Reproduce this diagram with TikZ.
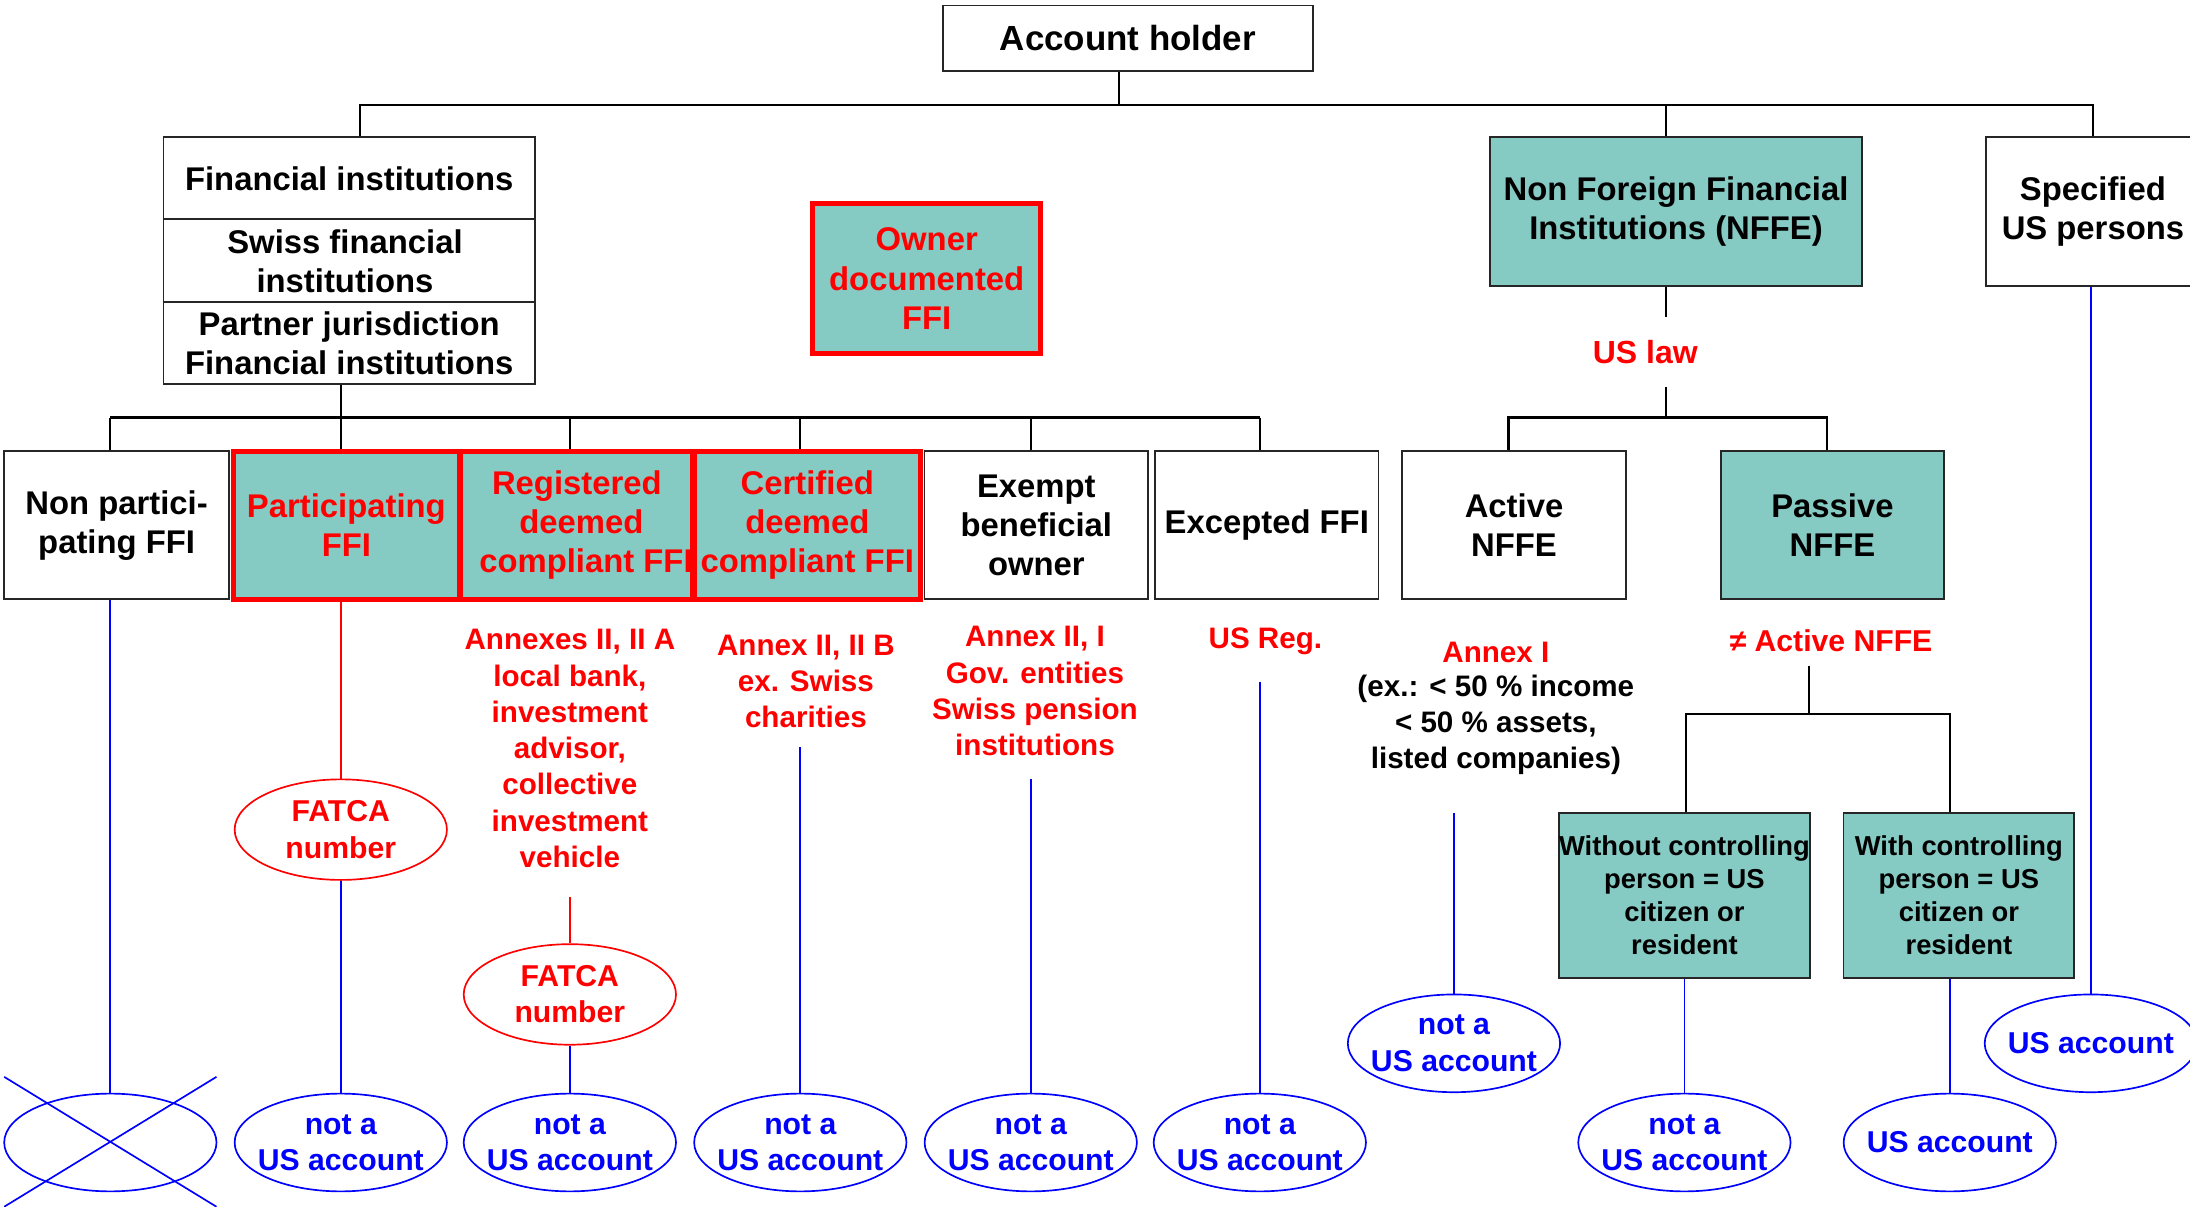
\documentclass[tikz,border=0pt]{standalone}
\usepackage{fontspec}
\setmainfont{Liberation Sans}
\usetikzlibrary{shapes.geometric}
\definecolor{tealfill}{RGB}{134,202,196}
\definecolor{myred}{RGB}{255,0,0}
\definecolor{myblue}{RGB}{0,0,255}
\begin{document}
\begin{tikzpicture}[x=1pt,y=-1pt,
 box/.style={draw=black!85,line width=1.2pt,inner sep=0pt,align=center,font=\bfseries\fontsize{23.5}{28}\selectfont},
 tealbox/.style={box,fill=tealfill},
 redbox/.style={tealbox,draw=myred,line width=3.5pt,text=myred},
 txt/.style={inner sep=0pt,align=center,font=\bfseries\fontsize{23.5}{28}\selectfont},
 bus/.style={line width=1.6pt,black},
 bline/.style={myblue,line width=1.3pt},
 rline/.style={myred,line width=1.3pt},
 acct/.style={ellipse,draw=myblue,line width=1.2pt,minimum width=152pt,minimum height=70pt,inner sep=0pt},
 accttxt/.style={inner sep=0pt,align=center,text=myblue,font=\bfseries\fontsize{21.6}{26}\selectfont},
 fatca/.style={acct,draw=myred,minimum height=72pt},
 fatcatxt/.style={accttxt,text=myred},
 redtxt/.style={text=myred,align=center,inner sep=0pt,font=\bfseries\fontsize{21.2}{26}\selectfont},
 blktxt/.style={redtxt,text=black},
 subbox/.style={tealbox,font=\bfseries\fontsize{19.6}{23.7}\selectfont}
]
\useasboundingbox (0,0) rectangle (1568,864);
% top
\node[box,minimum width=265pt,minimum height=47pt,font=\bfseries\fontsize{25}{30}\selectfont] (acc) at (807.5,27.5) {Account holder};
% financial institutions
\node[box,minimum width=266pt,minimum height=177pt] (fi) at (250,186.5) {};
\draw[black!85,line width=1.2pt] (fi.west |- 0,157) -- (fi.east |- 0,157);
\draw[black!85,line width=1.2pt] (fi.west |- 0,216) -- (fi.east |- 0,216);
\node[txt] (fi1) at (250,128) {Financial institutions};
\node[txt] (fi2) at (247,187) {Swiss financial\\institutions};
\node[txt] (fi3) at (250,246) {Partner jurisdiction\\Financial institutions};
\node[redbox,minimum width=163pt,minimum height=107pt] (odf) at (663.5,199.5) {Owner\\documented\\FFI};
\node[tealbox,minimum width=266pt,minimum height=107pt] (nffe) at (1200,151.5) {Non Foreign Financial\\Institutions (NFFE)};
\node[box,minimum width=153pt,minimum height=107pt] (spec) at (1498.5,151.5) {Specified\\US persons};
% top bus
\coordinate (tb) at (801,75);
\draw[bus] (acc.south -| tb) -- (tb);
\draw[bus] (fi.north -| 258,0) |- (spec.north |- tb) -- (spec.north);
\draw[bus] (tb -| 1193,0) -- (nffe.north -| 1193,0);
% row boxes
\node[box,minimum width=161pt,minimum height=106pt] (np) at (83.5,376) {Non partici-\\pating FFI};
\node[redbox,minimum width=162pt,minimum height=106pt] (part) at (248,376) {Participating\\FFI};
\node[redbox,minimum width=162pt,minimum height=106pt] (reg) at (413,376) {Registered\\\ deemed\\\ \ compliant FFI};
\node[redbox,minimum width=162pt,minimum height=106pt] (cert) at (578,376) {Certified\\deemed\\compliant FFI};
\node[box,minimum width=160pt,minimum height=106pt] (exm) at (742,376) {Exempt\\beneficial\\owner};
\node[box,minimum width=160pt,minimum height=106pt] (exc) at (907,376) {Excepted FFI};
\node[box,minimum width=160pt,minimum height=106pt] (act) at (1084,376) {Active\\NFFE};
\node[tealbox,minimum width=160pt,minimum height=106pt] (pas) at (1312,376) {Passive\\NFFE};
% FI bus
\coordinate (rb) at (244,299);
\draw[bus] (fi.south -| rb) -- (rb);
\draw[bus] (79,299) -- (902,299);
\foreach \x/\n in {79/np,244/part,408/reg,573/cert,738/exm,902/exc}
  \draw[bus] (\x,299) -- (\n.north -| \x,0);
% NFFE branch
\node[inner sep=0pt,minimum height=50pt,text=myred,font=\bfseries\fontsize{22.9}{27}\selectfont] (uslaw) at (1178,252) {US law};
\draw[bus] (nffe.south -| 1193,0) -- (uslaw.north -| 1193,0);
\draw[bus] (uslaw.south -| 1193,0) -- (1193,299);
\draw[bus] (act.north -| 1080,0) |- (1308,299) -- (pas.north -| 1308,0);
% annotations
\node[redtxt] (ann2) at (408,536) {Annexes II, II A\\local bank,\\investment\\advisor,\\collective\\investment\\vehicle};
\node[redtxt] (ann3) at (577,488) {Annex II, II B\\ex. Swiss\\charities};
\node[redtxt] (ann4) at (741,495) {Annex II, I\\Gov. entities\\Swiss pension\\institutions};
\node[redtxt] (ann5) at (906,459) {US Reg.};
\node[redtxt] (ann6) at (1071,467) {Annex I};
\node[blktxt] (ann6b) at (1071,519) {(ex.: < 50 \% income\\< 50 \% assets,\\listed companies)};
\node[redtxt,font=\bfseries\fontsize{21.6}{26}\selectfont] (ann7) at (1311,459) {≠ Active NFFE};
% passive sub boxes
\node[subbox,minimum width=178pt,minimum height=118pt] (wo) at (1206,641) {Without controlling\\person = US\\citizen or\\resident};
\node[subbox,minimum width=165pt,minimum height=118pt] (wi) at (1402.5,641) {With controlling\\person = US\\citizen or\\resident};
\draw[bus] (1295,477) -- (1295,511);
\draw[bus] (wo.north -| 1207,0) |- (1396,511) -- (wi.north -| 1396,0);
% ellipses
\node[acct] (e1) at (79,818) {};
\node[fatca,label={[fatcatxt]center:FATCA\\number}] (f1) at (244,594) {};
\node[acct,label={[accttxt]center:not a\\US account}] (e2) at (244,818) {};
\node[fatca,label={[fatcatxt]center:FATCA\\number}] (f2) at (408,712) {};
\node[acct,label={[accttxt]center:not a\\US account}] (e3) at (408,818) {};
\node[acct,label={[accttxt]center:not a\\US account}] (e4) at (573,818) {};
\node[acct,label={[accttxt]center:not a\\US account}] (e5) at (738,818) {};
\node[acct,label={[accttxt]center:not a\\US account}] (e6) at (902,818) {};
\node[acct,label={[accttxt]center:not a\\US account}] (e7) at (1041,747) {};
\node[acct,label={[accttxt]center:not a\\US account}] (e8) at (1206,818) {};
\node[acct,label={[accttxt]center:US account}] (e9) at (1396,818) {};
\node[acct,label={[accttxt]center:US account}] (e10) at (1497,747) {};
% cross
\draw[myblue,line width=1.2pt] (3,771) -- (155,864);
\draw[myblue,line width=1.2pt] (3,864) -- (155,771);
% vertical connectors
\draw[bline] (np.south -| e1) -- (e1.north);
\draw[rline] (part.south -| f1) -- (f1.north);
\draw[bline] (f1.south) -- (e2.north);
\coordinate (r2) at (408,642);
\draw[rline] (r2) -- (f2.north);
\draw[bline] (f2.south) -- (e3.north);
\coordinate (c4) at (573,535);
\draw[bline] (c4) -- (e4.north);
\coordinate (c5) at (738,558);
\draw[bline] (c5) -- (e5.north);
\coordinate (c6) at (902,488);
\draw[bline] (c6) -- (e6.north);
\coordinate (c7) at (1041,582);
\draw[bline] (c7) -- (e7.north);
\draw[bline] (wo.south -| e8) -- (e8.north);
\draw[bline] (wi.south -| e9) -- (e9.north);
\draw[bline] (spec.south -| e10) -- (e10.north);
\end{tikzpicture}
\end{document}
